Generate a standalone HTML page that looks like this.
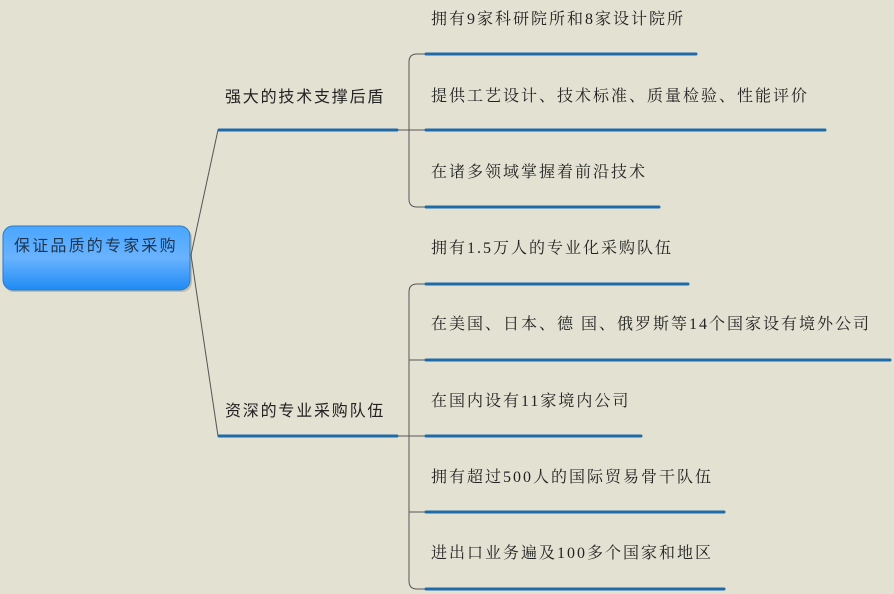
<!DOCTYPE html>
<html><head><meta charset="utf-8"><style>
html,body{margin:0;padding:0;background:#e3e1d2;}
svg{display:block;font-family:"Liberation Sans","Noto Sans CJK SC","WenQuanYi Zen Hei",sans-serif;}
.s{font-family:"Liberation Serif","Noto Serif CJK SC",serif;}
</style></head><body>
<svg width="894" height="594" viewBox="0 0 894 594" xmlns="http://www.w3.org/2000/svg">
<defs>
<linearGradient id="g" x1="0" y1="0" x2="0" y2="1">
<stop offset="0" stop-color="#4aa6ff"/><stop offset="0.5" stop-color="#69b3ff"/><stop offset="1" stop-color="#1f8bf5"/>
</linearGradient>
</defs>
<rect width="894" height="594" fill="#e3e1d2"/>
<rect x="4" y="228" width="188" height="64" rx="10" fill="#9a9a90" opacity="0.5"/>
<rect x="3" y="226" width="187" height="64" rx="10" fill="url(#g)" stroke="#2a79c4" stroke-width="1"/>
<text x="14" y="251" font-size="16" letter-spacing="2.2" fill="#1d3550">保证品质的专家采购</text>
<g stroke="#555" stroke-width="1" fill="none">
<path d="M191 255 L218 130"/>
<path d="M191 255 L218 436"/>
<path d="M397 130 L425 130"/>
<path d="M425 54 L417 54 Q409 54 409 62 L409 199 Q409 207 417 207 L425 207"/>
<path d="M397 436 L425 436"/>
<path d="M425 284 L417 284 Q409 284 409 292 L409 581 Q409 589 417 589 L425 589"/>
<path d="M409 360 L425 360"/>
<path d="M409 512 L425 512"/>
</g>
<g stroke="#1f6aa8" stroke-width="3" stroke-linecap="round">
<line x1="219" y1="130" x2="397" y2="130"/>
<line x1="219" y1="436" x2="397" y2="436"/>
<line x1="426" y1="54" x2="696" y2="54"/>
<line x1="426" y1="130" x2="825" y2="130"/>
<line x1="426" y1="207" x2="659" y2="207"/>
<line x1="426" y1="284" x2="688" y2="284"/>
<line x1="426" y1="360" x2="890" y2="360"/>
<line x1="426" y1="436" x2="641" y2="436"/>
<line x1="426" y1="512" x2="724" y2="512"/>
<line x1="426" y1="589" x2="724" y2="589"/>
</g>
<g font-size="16" fill="#222" letter-spacing="1.8">
<text x="225" y="102">强大的技术支撑后盾</text>
<text x="225" y="416">资深的专业采购队伍</text>
</g>
<g font-size="16" fill="#222" letter-spacing="2" class="s">
<text x="431" y="24">拥有9家科研院所和8家设计院所</text>
<text x="431" y="101">提供工艺设计、技术标准、质量检验、性能评价</text>
<text x="431" y="177">在诸多领域掌握着前沿技术</text>
<text x="431" y="253">拥有1.5万人的专业化采购队伍</text>
<text x="431" y="329">在美国、日本、德&#160;国、俄罗斯等14个国家设有境外公司</text>
<text x="431" y="406">在国内设有11家境内公司</text>
<text x="431" y="482">拥有超过500人的国际贸易骨干队伍</text>
<text x="431" y="558">进出口业务遍及100多个国家和地区</text>
</g>
</svg>
</body></html>
